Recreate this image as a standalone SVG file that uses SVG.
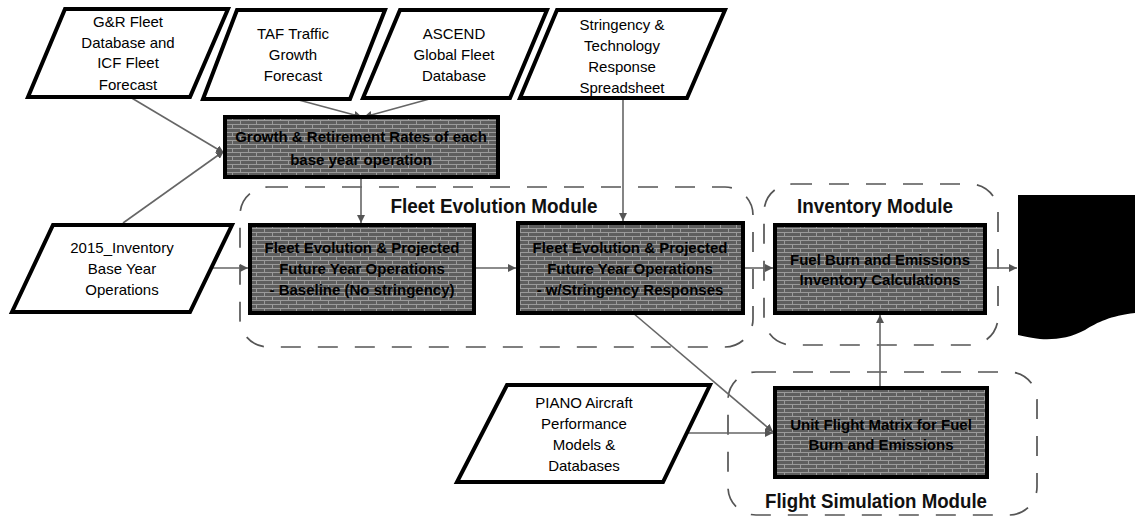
<svg xmlns="http://www.w3.org/2000/svg" width="1135" height="529" viewBox="0 0 1135 529">
<style>
.doc{fill:#fff;stroke:#000;stroke-width:4;stroke-linejoin:miter}
.proc{fill:url(#brick);stroke:#000;stroke-width:4}
.mod{fill:none;stroke:#555;stroke-width:1.7;stroke-dasharray:20 17}
.t{font-family:"Liberation Sans",Arial,sans-serif;font-size:15px;fill:#000;text-anchor:middle}
.pt{font-family:"Liberation Sans",Arial,sans-serif;font-size:15px;font-weight:bold;fill:#000;text-anchor:middle}
.mt{font-family:"Liberation Sans",Arial,sans-serif;font-size:20px;font-weight:bold;fill:#111;text-anchor:middle}
.c{fill:none;stroke:#666;stroke-width:1.6;marker-end:url(#arr)}
</style>
<defs>
<pattern id="brick" width="16" height="8" patternUnits="userSpaceOnUse">
<rect width="16" height="8" fill="#5e5e5e"/>
<path d="M0,0.5H16M0,4.5H16M0.5,0.5V4.5M8.5,4.5V8" stroke="#9a9a9a" stroke-width="1" fill="none"/>
</pattern>
<marker id="arr" markerWidth="8" markerHeight="8" refX="8" refY="4" orient="auto" markerUnits="userSpaceOnUse">
<path d="M0,0L8,4L0,8z" fill="#555"/>
</marker>
</defs>

<g id="fleet-evolution-module">
<rect class="mod" x="240" y="187" width="513" height="160" rx="28"/>
<text class="mt" x="494" y="213" textLength="207" lengthAdjust="spacingAndGlyphs">Fleet Evolution Module</text>
</g>
<g id="inventory-module">
<rect class="mod" x="764" y="184" width="234" height="161" rx="28"/>
<text class="mt" x="875" y="213" textLength="156" lengthAdjust="spacingAndGlyphs">Inventory Module</text>
</g>
<g id="flight-simulation-module">
<rect class="mod" x="728" y="372" width="309" height="143" rx="28"/>
<text class="mt" x="876" y="508" textLength="222" lengthAdjust="spacingAndGlyphs">Flight Simulation Module</text>
</g>

<g id="connectors">
<path class="c" d="M130,97L224,153"/>
<path class="c" d="M123,223L224,151"/>
<path class="c" d="M295,99L362,117"/>
<path class="c" d="M433,98L364,117"/>
<path class="c" d="M361,177L361,223"/>
<path class="c" d="M623,98L623,221"/>
<path class="c" d="M212,268L248,268"/>
<path class="c" d="M474,268L516,268"/>
<path class="c" d="M743,268L773,268"/>
<path class="c" d="M985,268L1017,268"/>
<path class="c" d="M880,388L880,315"/>
<path class="c" d="M633,313L773,432"/>
<path class="c" d="M687,433L773,433"/>
</g>

<g id="gr-fleet">
<polygon class="doc" points="65,9 228,9 190,97 28,97"/>
<text class="t" x="128" y="27">G&amp;R Fleet</text>
<text class="t" x="128" y="48">Database and</text>
<text class="t" x="128" y="68">ICF Fleet</text>
<text class="t" x="128" y="90">Forecast</text>
</g>
<g id="taf">
<polygon class="doc" points="237,10 385,10 350,99 203,99"/>
<text class="t" x="293" y="39">TAF Traffic</text>
<text class="t" x="293" y="60">Growth</text>
<text class="t" x="293" y="81">Forecast</text>
</g>
<g id="ascend">
<polygon class="doc" points="400,10 547,10 510,98 363,98"/>
<text class="t" x="454" y="39">ASCEND</text>
<text class="t" x="454" y="60">Global Fleet</text>
<text class="t" x="454" y="81">Database</text>
</g>
<g id="stringency">
<polygon class="doc" points="557,10 725,10 687,98 520,98"/>
<text class="t" x="622" y="30">Stringency &amp;</text>
<text class="t" x="622" y="51">Technology</text>
<text class="t" x="622" y="72">Response</text>
<text class="t" x="622" y="93">Spreadsheet</text>
</g>
<g id="inventory-2015">
<polygon class="doc" points="53,225 232,225 190,312 12,312"/>
<text class="t" x="122" y="253">2015_Inventory</text>
<text class="t" x="122" y="274">Base Year</text>
<text class="t" x="122" y="295">Operations</text>
</g>
<g id="piano">
<polygon class="doc" points="507,385 710,385 663,482 457,482"/>
<text class="t" x="584" y="408">PIANO Aircraft</text>
<text class="t" x="584" y="429">Performance</text>
<text class="t" x="584" y="450">Models &amp;</text>
<text class="t" x="584" y="471">Databases</text>
</g>

<g id="growth-retirement">
<rect class="proc" x="225" y="117" width="273" height="60"/>
<text class="pt" x="361" y="142">Growth &amp; Retirement Rates of each</text>
<text class="pt" x="361" y="165">base year operation</text>
</g>
<g id="fleet-baseline">
<rect class="proc" x="250" y="225" width="224" height="88"/>
<text class="pt" x="362" y="253">Fleet Evolution &amp; Projected</text>
<text class="pt" x="362" y="274">Future Year Operations</text>
<text class="pt" x="362" y="295">- Baseline (No stringency)</text>
</g>
<g id="fleet-stringency">
<rect class="proc" x="518" y="223" width="225" height="90"/>
<text class="pt" x="630" y="253">Fleet Evolution &amp; Projected</text>
<text class="pt" x="630" y="274">Future Year Operations</text>
<text class="pt" x="630" y="295">- w/Stringency Responses</text>
</g>
<g id="inventory-calc">
<rect class="proc" x="775" y="225" width="210" height="88"/>
<text class="pt" x="880" y="265">Fuel Burn and Emissions</text>
<text class="pt" x="880" y="285">Inventory Calculations</text>
</g>
<g id="unit-flight">
<rect class="proc" x="775" y="388" width="212" height="89"/>
<text class="pt" x="881" y="430">Unit Flight Matrix for Fuel</text>
<text class="pt" x="881" y="450">Burn and Emissions</text>
</g>
<g id="output">
<path d="M1018,195H1135V313C1110,316 1098,322 1085,330C1070,338 1055,340 1040,339C1030,338 1024,336 1018,335Z" fill="#000"/>
</g>
</svg>
